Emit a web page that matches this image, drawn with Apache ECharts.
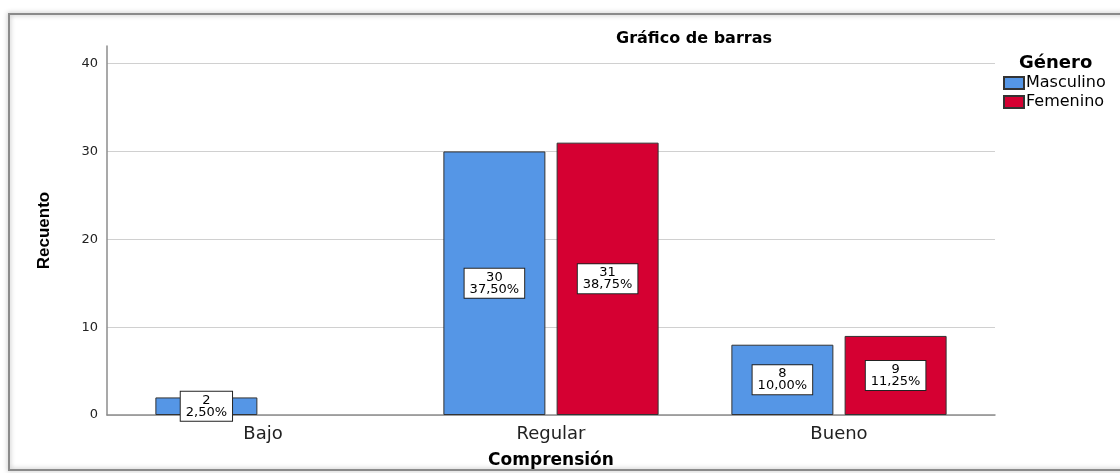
<!DOCTYPE html>
<html>
<head>
<meta charset="utf-8">
<script src="https://cdn.jsdelivr.net/npm/echarts@6/dist/echarts.min.js"></script>
<style>
  html, body { margin: 0; padding: 0; background: #fff; }
  #chart { width: 1120px; height: 473px; }
</style>
</head>
<body>
<div id="chart"></div>
<script>
var categories = ['Bajo', 'Regular', 'Bueno']
var masculino = [2, 30, 8]
var femenino = [null, 31, 9]
var masculinoPct = ['2,50%', '37,50%', '10,00%']
var femeninoPct = ['', '38,75%', '11,25%']
var yTicks = [0, 10, 20, 30, 40]

var font = 'DejaVu Sans, Liberation Sans, sans-serif'

function boxLabel(pcts) {
  return {
    show: true,
    position: 'inside',
    formatter: function(p) {
      return p.value + '\n' + pcts[p.dataIndex]
    },
    color: '#000',
    fontFamily: font,
    fontSize: 13,
    lineHeight: 12,
    backgroundColor: '#fff',
    borderColor: '#222',
    borderWidth: 1,
    padding: [3, 5, 2, 5],
    align: 'center'
  }
}

var chart = echarts.init(document.getElementById('chart'))
chart.setOption({
  animation: false,
  textStyle: { fontFamily: font },
  graphic: [
    {
      type: 'rect',
      shape: { x: 9, y: 14, width: 1130, height: 456 },
      style: { fill: 'none', stroke: '#8a8a8a', lineWidth: 2, shadowBlur: 5, shadowColor: 'rgba(0,0,0,0.35)' },
      silent: true,
      z: -1
    }
  ],
  title: [
    {
      text: 'Gráfico de barras',
      left: 689,
      top: 26,
      textAlign: 'center',
      textStyle: { fontSize: 16, fontWeight: 'bold', color: '#000', fontFamily: font }
    },
    {
      text: 'Género',
      left: 1014,
      top: 49,
      textStyle: { fontSize: 18, fontWeight: 'bold', color: '#000', fontFamily: font }
    }
  ],
  legend: {
    orient: 'vertical',
    left: 998,
    top: 70,
    itemWidth: 20,
    itemHeight: 12,
    itemGap: 3,
    icon: 'rect',
    textStyle: { fontSize: 16, color: '#000', fontFamily: font, padding: [0, 0, 0, -3] },
    data: ['Masculino', 'Femenino']
  },
  grid: [
    { left: 107, right: 125, top: 46, bottom: 58, outerBoundsMode: 'none', containLabel: false },
    { left: 119, right: 137, top: 46, bottom: 58, outerBoundsMode: 'none', containLabel: false }
  ],
  xAxis: [
    {
      gridIndex: 0,
      type: 'category',
      data: categories,
      axisLine: { lineStyle: { color: '#8c8c8c', width: 1.5 } },
      axisTick: { show: false },
      axisLabel: { show: false }
    },
    {
      gridIndex: 1,
      type: 'category',
      data: categories,
      axisLine: { show: false },
      axisTick: { show: false },
      axisLabel: { color: '#222', fontSize: 18, margin: 10, fontFamily: font },
      name: 'Comprensión',
      nameLocation: 'middle',
      nameGap: 37,
      nameTextStyle: { fontSize: 17, fontWeight: 'bold', color: '#000', fontFamily: font }
    }
  ],
  yAxis: [
    {
      gridIndex: 0,
      type: 'value',
      min: 0,
      max: 42,
      interval: 10,
      axisLine: { show: true, lineStyle: { color: '#8c8c8c', width: 1.5 } },
      axisTick: { show: false, customValues: yTicks },
      axisLabel: { customValues: yTicks, color: '#222', fontSize: 13, margin: 9, fontFamily: font },
      splitLine: { show: true, lineStyle: { color: '#d0d0d0', width: 1 } },
      name: 'Recuento',
      nameLocation: 'middle',
      nameRotate: 90,
      nameGap: 54,
      nameTextStyle: { fontSize: 17, fontWeight: 'bold', color: '#000', fontFamily: 'Liberation Sans Narrow, Arial Narrow, sans-serif' }
    },
    {
      gridIndex: 1,
      type: 'value',
      min: 0,
      max: 42,
      show: false
    }
  ],
  series: [
    {
      name: 'Masculino',
      type: 'bar',
      xAxisIndex: 1,
      yAxisIndex: 1,
      data: masculino,
      barWidth: 102,
      barGap: '11%',
      itemStyle: { color: '#5596e6', borderColor: '#333', borderWidth: 1 },
      label: boxLabel(masculinoPct)
    },
    {
      name: 'Femenino',
      type: 'bar',
      xAxisIndex: 1,
      yAxisIndex: 1,
      data: femenino,
      barWidth: 102,
      barGap: '11%',
      itemStyle: { color: '#d50032', borderColor: '#333', borderWidth: 1 },
      label: boxLabel(femeninoPct)
    }
  ]
})
</script>
</body>
</html>
